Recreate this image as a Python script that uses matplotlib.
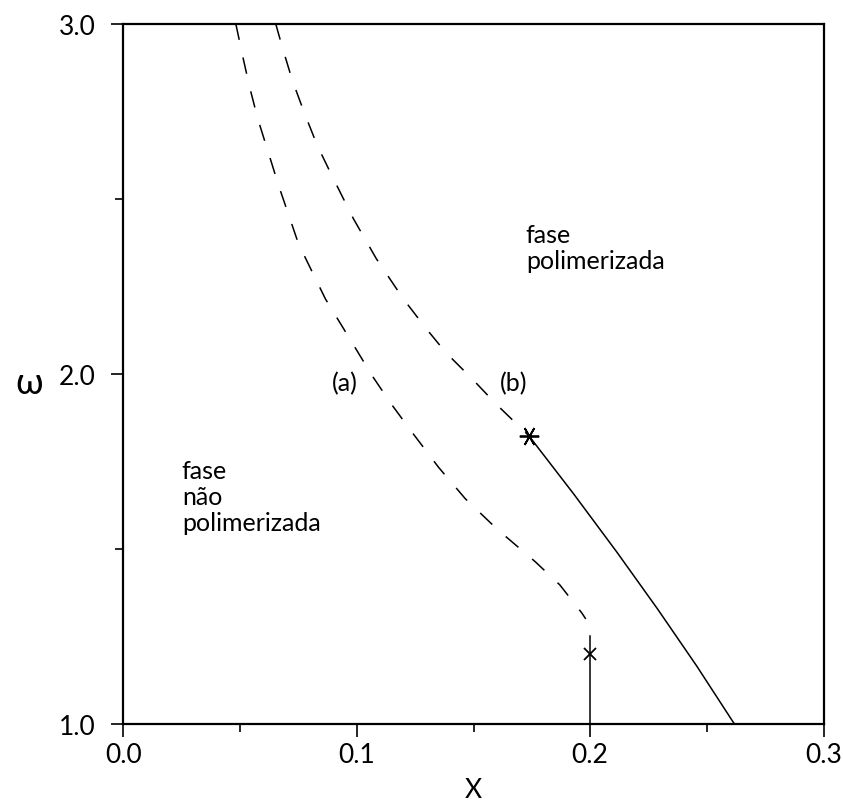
import matplotlib
matplotlib.use("Agg")
import matplotlib.pyplot as plt
from matplotlib.ticker import FixedLocator, NullFormatter

plt.rcParams["font.family"] = ["Lato", "DejaVu Sans"]
plt.rcParams["font.weight"] = "normal"
plt.rcParams["lines.scale_dashes"] = False

# Boundary (a): dashed, ends near x = 0.2
curve_a_x = [0.0481, 0.0515, 0.0540, 0.0575, 0.0622, 0.0665, 0.0750, 0.0865,
             0.0985, 0.1066, 0.1147, 0.1241, 0.1350, 0.1465, 0.1600, 0.1765,
             0.1870, 0.1964, 0.1981]
curve_a_y = [3.000, 2.894, 2.820, 2.729, 2.629, 2.537, 2.371, 2.214,
             2.083, 1.994, 1.914, 1.829, 1.733, 1.643, 1.557, 1.463,
             1.397, 1.317, 1.300]

# Boundary (b): dashed part down to the asterisk
curve_b_x = [0.0652, 0.0682, 0.0724, 0.0776, 0.0831, 0.0895, 0.0985, 0.1083,
             0.1199, 0.1297, 0.1382, 0.1489, 0.1596, 0.1737]
curve_b_y = [3.000, 2.929, 2.837, 2.743, 2.651, 2.563, 2.443, 2.329,
             2.214, 2.129, 2.060, 1.989, 1.914, 1.823]

# Boundary (b): solid part from the asterisk to the x axis
solid_b_x = [0.1737, 0.1929, 0.2114, 0.2288, 0.2456, 0.2618]
solid_b_y = [1.823, 1.657, 1.491, 1.329, 1.166, 1.000]

# Special points
star_b = (0.1737, 1.823)
cross_a = (0.200, 1.200)
vline_x = 0.200
vline_y = [1.25, 1.00]

x_major = [0.0, 0.1, 0.2, 0.3]
x_minor = [0.05, 0.15, 0.25]
y_major = [1.0, 2.0, 3.0]
y_minor = [1.5, 2.5]

fig = plt.figure(figsize=(8.43, 8.04), dpi=100)
ax = fig.add_axes([0.1465, 0.0983, 0.8304, 0.8712])

lw = 1.1
ax.plot(curve_a_x, curve_a_y, color="black", lw=lw, dashes=(12, 13))
ax.plot(curve_b_x, curve_b_y, color="black", lw=lw, dashes=(12, 13))
ax.plot(solid_b_x, solid_b_y, color="black", lw=lw)
ax.plot([star_b[0]], [star_b[1]], marker=(6, 2, 90), ms=14, mew=1.3,
        color="black", ls="none")
ax.plot([vline_x, vline_x], vline_y, color="black", lw=lw)
ax.plot([cross_a[0]], [cross_a[1]], marker="x", ms=9, mew=1.3,
        color="black", ls="none")

ax.set_xlim(0.0, 0.3)
ax.set_ylim(1.0, 3.0)

ax.xaxis.set_major_locator(FixedLocator(x_major))
ax.xaxis.set_minor_locator(FixedLocator(x_minor))
ax.yaxis.set_major_locator(FixedLocator(y_major))
ax.yaxis.set_minor_locator(FixedLocator(y_minor))
ax.set_xticklabels(["0.0", "0.1", "0.2", "0.3"])
ax.set_yticklabels(["1.0", "2.0", "3.0"])
ax.xaxis.set_minor_formatter(NullFormatter())
ax.yaxis.set_minor_formatter(NullFormatter())

ax.tick_params(which="major", direction="out", length=9, width=1.2,
               labelsize=19, top=False, right=False)
ax.tick_params(axis="x", which="major", pad=4)
ax.tick_params(axis="y", which="major", pad=11)
ax.tick_params(which="minor", direction="out", length=6, width=1.2,
               top=False, right=False)
for s in ax.spines.values():
    s.set_linewidth(1.6)

ax.set_xlabel("X", fontsize=19, labelpad=7)
ax.set_ylabel("ω", fontsize=26, rotation=0, va="center", ha="center")
ax.yaxis.set_label_coords(-0.135, 0.488)

txt = dict(fontsize=18, color="black", linespacing=1.15)
ax.text(0.0947, 1.974, "(a)", ha="center", va="center", **txt)
ax.text(0.1673, 1.974, "(b)", ha="center", va="center", **txt)
ax.text(0.1724, 2.36, "fase\npolimerizada", ha="left", va="center", **txt)
ax.text(0.025, 1.65, "fase\nnão\npolimerizada", ha="left", va="center", **txt)

fig.savefig("out.png", dpi=100, facecolor="white")
